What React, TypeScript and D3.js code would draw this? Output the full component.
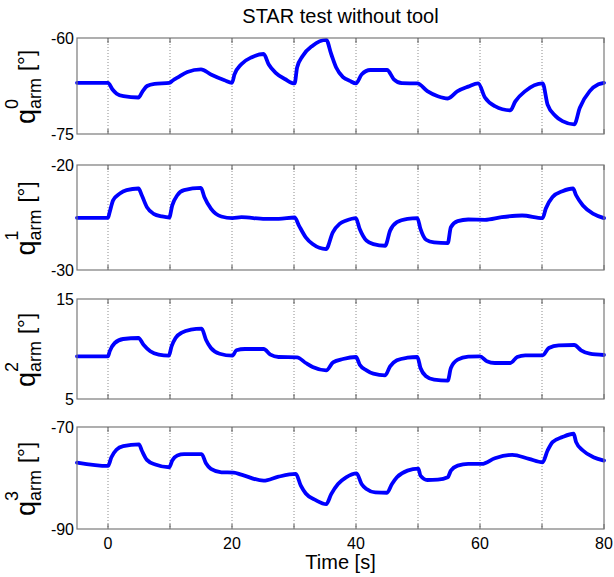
import React from 'react';
import * as d3 from 'd3';

// ---------- data ----------
const X_DOMAIN: [number, number] = [-5, 80];
const X_TICK_LABELS = [0, 20, 40, 60, 80];
const X_GRID = [0, 10, 20, 30, 40, 50, 60, 70];
const X_MINOR_TICKS = [0, 10, 20, 30, 40, 50, 60, 70, 80];

const TITLE = 'STAR test without tool';
const X_LABEL = 'Time [s]';

const JOINT_SUPERS = ['0', '1', '2', '3'];
const Y_DOMAINS: [number, number][] = [[-75, -60], [-30, -20], [5, 15], [-90, -70]];

const P0_T = [-5, 0, 0.7, 1.4, 2.5, 4.9, 5.6, 6.3, 7.5, 9.9, 10.5, 11.2, 12.8, 15.0, 16.6, 18.8, 20.0, 20.4, 21.5, 23.2, 25.1, 25.9, 27.0, 28.6, 30.1, 30.5, 31.4, 33.0, 35.2, 36.0, 36.8, 37.9, 39.0, 40.0, 40.9, 42.3, 45.0, 46.1, 47.4, 49.9, 51.5, 53.2, 54.8, 56.4, 58.1, 59.7, 60.8, 62.4, 64.9, 65.7, 67.3, 70.1, 70.9, 72.2, 73.3, 75.2, 76.1, 77.7, 79.1, 80];
const P0_V = [-67.0, -67.0, -68.0, -68.7, -69.1, -69.3, -68.3, -67.5, -67.15, -67.0, -66.6, -66.2, -65.3, -64.9, -65.7, -66.6, -67.0, -65.7, -64.1, -63.0, -62.5, -64.1, -65.4, -66.45, -67.1, -64.6, -62.8, -61.2, -60.3, -62.5, -64.6, -66.1, -66.7, -67.1, -65.7, -65.0, -65.0, -66.45, -67.05, -67.1, -68.3, -69.1, -69.45, -68.3, -67.6, -67.1, -69.3, -70.65, -71.3, -69.9, -68.3, -67.1, -70.4, -72.2, -73.0, -73.5, -70.9, -68.3, -67.24, -67.0];

const P1_T = [-5, 0, 0.27, 0.82, 1.91, 3.0, 4.91, 5.45, 6.27, 7.36, 8.72, 9.87, 10.36, 11.18, 12.27, 14.99, 15.54, 16.63, 18.27, 20.07, 21.54, 25.35, 27.54, 30.1, 30.8, 31.9, 33.0, 35.17, 36.26, 37.35, 38.44, 39.97, 40.6, 41.7, 42.8, 44.7, 45.5, 46.6, 48.3, 49.9, 50.4, 51.3, 52.6, 54.8, 55.3, 56.4, 58.1, 60.8, 63.5, 66.8, 70.1, 70.6, 71.7, 73.3, 75.0, 75.5, 76.6, 78.3, 80];
const P1_V = [-25.03, -25.03, -24.49, -23.37, -22.72, -22.40, -22.24, -22.88, -24.01, -24.65, -24.90, -25.00, -23.85, -22.88, -22.40, -22.18, -23.04, -24.17, -24.90, -25.06, -24.97, -25.13, -25.13, -25.00, -25.77, -26.89, -27.53, -28.01, -26.41, -25.61, -25.29, -25.06, -26.09, -27.21, -27.53, -27.69, -26.25, -25.45, -25.13, -25.06, -26.09, -27.12, -27.37, -27.44, -25.93, -25.35, -25.19, -25.22, -24.97, -24.81, -25.06, -24.17, -23.04, -22.50, -22.24, -22.88, -23.85, -24.65, -25.06];

const P2_T = [-5, 0, 0.27, 1.09, 2.45, 4.91, 5.73, 6.82, 8.18, 9.81, 10.25, 10.9, 12.0, 13.36, 15.1, 15.8, 16.6, 18.0, 20.07, 20.7, 22.1, 25.1, 26.2, 27.5, 30.5, 31.9, 33.0, 35.2, 36.3, 37.9, 40.0, 40.6, 41.7, 42.8, 44.7, 45.5, 46.6, 48.3, 49.9, 50.4, 51.3, 52.6, 54.8, 55.3, 56.4, 58.1, 60.0, 61.1, 62.4, 64.9, 66.0, 67.3, 70.1, 71.1, 72.7, 75.2, 76.3, 77.7, 80];
const P2_V = [9.27, 9.27, 9.77, 10.6, 11.0, 11.1, 10.43, 9.77, 9.43, 9.33, 10.27, 11.1, 11.67, 11.93, 12.03, 10.93, 10.1, 9.53, 9.33, 9.87, 10.0, 10.0, 9.43, 9.2, 9.17, 8.6, 8.2, 7.87, 8.67, 9.0, 9.2, 8.43, 7.87, 7.53, 7.37, 8.27, 8.87, 9.13, 9.2, 8.1, 7.27, 6.93, 6.83, 8.1, 8.93, 9.23, 9.27, 8.77, 8.6, 8.6, 9.2, 9.37, 9.37, 10.1, 10.37, 10.4, 9.87, 9.53, 9.4];

const P3_T = [-5, 0, 0.55, 1.36, 2.45, 5.0, 5.45, 6.27, 7.63, 9.87, 10.36, 11.18, 12.27, 15.1, 15.8, 16.6, 18.3, 20.3, 21.5, 25.1, 27.5, 30.3, 31.1, 31.9, 33.5, 35.2, 36.0, 37.1, 38.4, 40.1, 40.9, 41.7, 43.1, 45.0, 45.8, 46.6, 48.3, 50.05, 50.4, 51.5, 53.2, 54.8, 55.3, 56.4, 58.1, 60.3, 62.4, 65.2, 67.9, 70.1, 70.9, 71.7, 73.3, 75.1, 75.5, 76.6, 78.3, 80];
const P3_V = [-76.97, -77.63, -75.92, -74.47, -73.75, -73.42, -74.61, -76.45, -77.37, -77.89, -76.58, -75.59, -75.33, -75.33, -77.11, -78.22, -78.88, -78.95, -79.34, -80.53, -79.74, -79.21, -81.51, -83.03, -84.34, -85.13, -83.16, -81.18, -79.87, -79.08, -81.18, -82.17, -82.83, -82.89, -81.18, -79.87, -78.55, -78.16, -79.54, -80.39, -80.33, -79.87, -78.55, -77.57, -77.24, -77.24, -76.12, -75.46, -76.25, -76.91, -74.61, -72.96, -71.97, -71.32, -72.96, -74.61, -75.92, -76.58];

const SERIES_T = [P0_T, P1_T, P2_T, P3_T];
const SERIES_V = [P0_V, P1_V, P2_V, P3_V];

// ---------- layout ----------
const W = 614;
const H = 577;
const LEFT = 77;
const RIGHT = 604;
const TOPS = [38, 165, 299, 427];
const BOTTOMS = [134, 270, 399, 529];
const FONT = 'Liberation Sans, Arial, Helvetica, sans-serif';

function YLabel({ cy, sup }: { cy: number; sup: string }) {
  const qF = 27, sF = 18, bF = 22;
  const qW = 0.556 * qF;
  const armW = 1.722 * sF;
  const gap = 7;
  const bW = 0.956 * bF;
  const total = qW + armW + gap + bW;
  const u0 = -total / 2 - 1;
  const bx = 35; // main baseline screen x
  return (
    <g transform={`translate(${bx},${cy}) rotate(-90)`} fontFamily={FONT} fill="#000">
      <text x={u0} y={0} fontSize={qF}>q</text>
      <text x={u0 + qW} y={-17} fontSize={sF}>{sup}</text>
      <text x={u0 + qW} y={6} fontSize={sF}>arm</text>
      <text x={u0 + qW + armW + gap} y={-1} fontSize={bF}>[°]</text>
    </g>
  );
}

function Panel({ i }: { i: number }) {
  const top = TOPS[i];
  const bottom = BOTTOMS[i];
  const x = d3.scaleLinear().domain(X_DOMAIN).range([LEFT, RIGHT]);
  const y = d3.scaleLinear().domain(Y_DOMAINS[i]).range([bottom, top]);
  const ts = SERIES_T[i];
  const vs = SERIES_V[i];
  const pts: [number, number][] = ts.map((t, k) => [t, vs[k]]);
  const line = d3
    .line<[number, number]>()
    .x((d) => x(d[0]))
    .y((d) => y(d[1]))
    .curve(d3.curveMonotoneX);
  const yTicks = Y_DOMAINS[i];
  return (
    <g>
      <rect x={LEFT} y={top} width={RIGHT - LEFT} height={bottom - top} fill="#fff" />
      {X_GRID.map((g) => (
        <line
          key={'g' + g}
          x1={x(g)}
          x2={x(g)}
          y1={top}
          y2={bottom}
          stroke="#8c8c8c"
          strokeWidth={1}
          strokeDasharray="1,2"
        />
      ))}
      {X_MINOR_TICKS.map((g) => (
        <g key={'t' + g}>
          <line x1={x(g)} x2={x(g)} y1={top} y2={top + 5} stroke="#555" strokeWidth={1} />
          <line x1={x(g)} x2={x(g)} y1={bottom} y2={bottom - 5} stroke="#555" strokeWidth={1} />
        </g>
      ))}
      <path d={line(pts) || ''} fill="none" stroke="#0000ff" strokeWidth={3.8} strokeLinejoin="round" strokeLinecap="round" />
      <rect x={LEFT} y={top} width={RIGHT - LEFT} height={bottom - top} fill="none" stroke="#7a7a7a" strokeWidth={1.2} />
      {yTicks.map((v) => (
        <text
          key={'y' + v}
          x={LEFT - 3}
          y={y(v)}
          dy="0.36em"
          textAnchor="end"
          fontSize={16}
          fontFamily={FONT}
          fill="#000"
        >
          {v}
        </text>
      ))}
      <YLabel cy={(top + bottom) / 2} sup={JOINT_SUPERS[i]} />
      {i === 3 &&
        X_TICK_LABELS.map((t) => (
          <text key={'x' + t} x={x(t)} y={bottom + 20} textAnchor="middle" fontSize={16} fontFamily={FONT} fill="#000">
            {t}
          </text>
        ))}
    </g>
  );
}

export default function App() {
  return (
    <svg width={W} height={H} style={{ position: 'absolute', left: 0, top: 0, background: '#fff' }}>
      <rect x={0} y={0} width={W} height={H} fill="#fff" />
      <text x={(LEFT + RIGHT) / 2} y={23} textAnchor="middle" fontSize={20} fontFamily={FONT} fill="#000">
        {TITLE}
      </text>
      {[0, 1, 2, 3].map((i) => (
        <Panel key={i} i={i} />
      ))}
      <text x={(LEFT + RIGHT) / 2} y={569} textAnchor="middle" fontSize={20} fontFamily={FONT} fill="#000">
        {X_LABEL}
      </text>
    </svg>
  );
}
